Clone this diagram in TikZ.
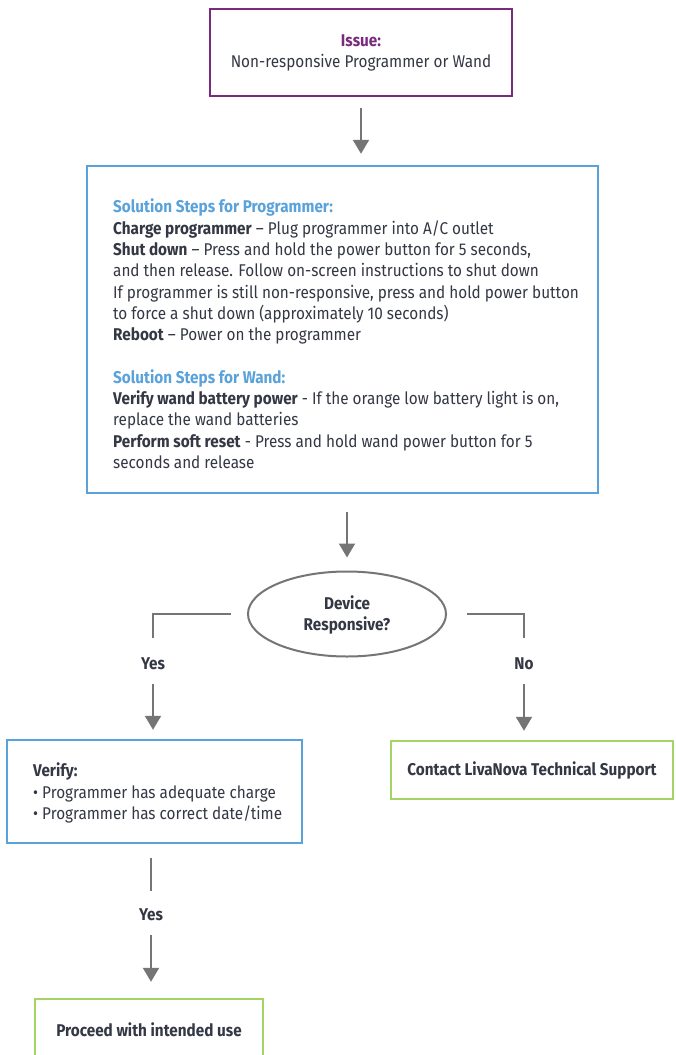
\documentclass[tikz,border=0pt]{standalone}
\usepackage{fontspec}
\setmainfont{Fira Sans}[FakeStretch=0.9]
\usetikzlibrary{arrows.meta,shapes.geometric}
\definecolor{txt}{HTML}{343744}
\definecolor{purp}{HTML}{7A2A7E}
\definecolor{blu}{HTML}{5AA2DA}
\definecolor{grn}{HTML}{A4D465}
\definecolor{arr}{HTML}{757575}
\tikzset{
  box/.style={draw, line width=2.4pt, inner sep=0pt},
  conn/.style={draw=arr, line width=2pt},
  arrw/.style={conn, -{Triangle[width=16pt,length=14pt]}},
  lbl/.style={font=\fontsize{17}{20}\selectfont\bfseries, text=txt, inner sep=0pt, minimum height=40pt},
  body/.style={text=txt, align=left, inner sep=0pt, font=\fontsize{17}{21.3}\selectfont},
}
\begin{document}
\begin{tikzpicture}[x=1pt,y=-1pt]
\clip (0,0) rectangle (675,1055);
\useasboundingbox (0,0) rectangle (675,1055);
\fill[white] (0,0) rectangle (675,1055);

% Issue
\node[box, draw=purp, minimum width=302pt, minimum height=87pt] (issue) at (361,52.5) {};
\node[body, align=center] (issuet) at (361,53) {\textcolor{purp}{\bfseries Issue:}\\Non-responsive Programmer or Wand};

% Solution steps
\node[box, draw=blu, minimum width=511pt, minimum height=327pt] (sol) at (342.5,329.5) {};
\node[body, anchor=north west] (solt) at (113,199) {%
\textcolor{blu}{\bfseries Solution Steps for Programmer:}\\
\textbf{Charge programmer} -- Plug programmer into A/C outlet\\
\textbf{Shut down} -- Press and hold the power button for 5 seconds,\\
and then release. Follow on-screen instructions to shut down\\
If programmer is still non-responsive, press and hold power button\\
to force a shut down (approximately 10 seconds)\\
\textbf{Reboot} -- Power on the programmer\\[21.3pt]
\textcolor{blu}{\bfseries Solution Steps for Wand:}\\
\textbf{Verify wand battery power} - If the orange low battery light is on,\\
replace the wand batteries\\
\textbf{Perform soft reset} - Press and hold wand power button for 5\\
seconds and release};

% Decision
\node[ellipse, draw=arr, line width=2pt, minimum width=198pt, minimum height=85pt, inner sep=0pt] (dec) at (347,614) {};
\node[body, align=center, font=\fontsize{17}{21.3}\selectfont\bfseries] (dect) at (347,615) {Device\\Responsive?};

\node[lbl] (yes1) at (153,664) {Yes};
\node[lbl] (no1) at (524,664) {No};

% Verify
\node[box, draw=blu, minimum width=295pt, minimum height=103pt] (ver) at (154.5,791.5) {};
\node[body, anchor=west] (vert) at (33,793) {\textbf{Verify:}\\
\textbullet\ Programmer has adequate charge\\
\textbullet\ Programmer has correct date/time};

% Contact
\node[box, draw=grn, minimum width=282pt, minimum height=58pt, font=\fontsize{17}{20}\selectfont\bfseries, text=txt] (contact) at (532,770) {Contact LivaNova Technical Support};

\node[lbl] (yes2) at (151,915) {Yes};

% Proceed
\node[box, draw=grn, minimum width=228pt, minimum height=62pt, font=\fontsize{17}{20}\selectfont\bfseries, text=txt] (proc) at (149,1030) {Proceed with intended use};

% connectors
\draw[arrw, shorten <=11pt, shorten >=11pt] (issue.south) -- (issue.south |- sol.north);
\draw[arrw, shorten <=18pt, shorten >=13pt] (sol.south -| dec) -- (dec.north);
\draw[conn, shorten <=16pt, shorten >=6pt] (dec.west) -| (yes1.north);
\draw[conn, shorten <=20pt, shorten >=6pt] (dec.east) -| (no1.north);
\draw[arrw, shorten >=9pt] (yes1.south) -- (yes1.south |- ver.north);
\draw[arrw, shorten >=9pt] (no1.south) -- (no1.south |- contact.north);
\draw[conn, shorten <=14pt, shorten >=4pt] (yes2.north |- ver.south) -- (yes2.north);
\draw[arrw, shorten >=16pt] (yes2.south) -- (yes2.south |- proc.north);
\end{tikzpicture}
\end{document}
